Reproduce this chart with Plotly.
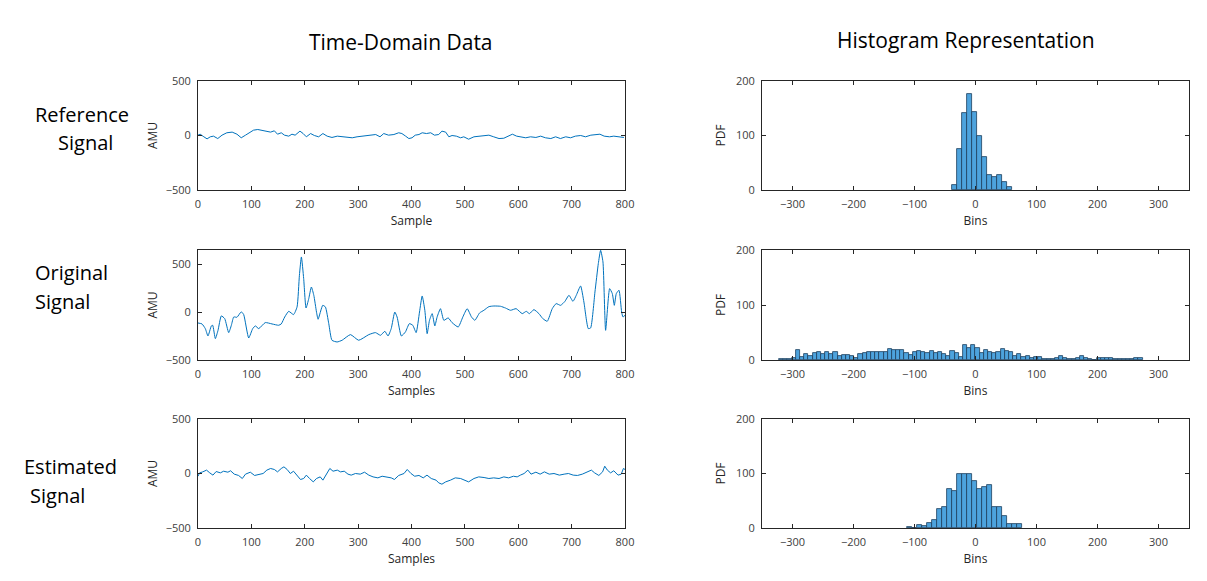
import plotly.graph_objects as go

# ---------------- data ----------------
ref_x = [0, 4, 11, 17, 23, 29, 37, 45, 54, 64, 73, 81, 89, 98, 104, 112, 120, 128, 136, 143, 149, 156, 162, 170,
         176, 182, 191, 197, 203, 211, 218, 226, 234, 242, 251, 261, 270, 279, 289, 298, 308, 317, 326, 333, 341,
         348, 357, 367, 376, 382, 389, 395, 401, 407, 414, 420, 428, 436, 443, 451, 457, 464, 470, 476, 484, 492,
         498, 507, 517, 526, 536, 545, 554, 564, 573, 582, 589, 597, 604, 614, 623, 633, 642, 651, 661, 670, 679,
         689, 698, 707, 717, 726, 736, 745, 753, 761, 771, 779, 789, 798]
ref_y = [3, 12, -12, -31, -12, -6, -28, 3, 25, 31, 12, -21, 3, 31, 49, 55, 49, 37, 31, 43, 12, 25, 3, -6,
         12, 3, 40, 18, -12, 18, 0, -12, 18, -6, -18, -6, -12, -18, -21, -12, -6, -3, 0, 9, -12,
         18, 3, 9, 25, 18, -6, -28, -21, 3, 9, 25, 18, 25, 3, 9, 40, 31, -12, 0, -6, -21,
         -12, -34, -12, -6, 0, 3, -12, -28, -25, 0, 12, -6, -12, -21, -12, -18, -6, -21, -28, -12, -28,
         -12, -21, -6, 0, -12, 3, 6, 12, -6, -12, -6, -12, -18]

orig_x = [0, 7.5, 13.7, 18.7, 25, 27.5, 32.5, 37.5, 43.7, 50, 57.5, 62.5, 67, 73, 81, 85.6, 95, 102.5, 107.5,
          113.7, 126, 138.7, 151, 156, 162.5, 170, 179, 185.6, 190, 193.7, 198, 202.4, 207.5, 212.4, 217, 222,
          225, 233.7, 238.7, 245, 251, 260.6, 270, 285.6, 301, 320, 332.4, 342, 350, 356, 362, 368.7, 373, 381,
          388.7, 396, 402.4, 408.7, 415, 420, 425, 429.3, 433.7, 438.7, 443.7, 448, 454.3, 460.6, 468.7, 476,
          487.5, 496.2, 504.3, 512.4, 518.7, 527.5, 535.6, 545, 554.3, 566.8, 576, 585.6, 596, 607.5, 615, 621,
          629.3, 638.7, 646, 654.3, 663.7, 671, 679.3, 687.5, 695, 702.5, 708.7, 716.8, 723, 731.2, 735.6,
          743.7, 750, 754.3, 758.7, 763.7, 771.2, 776.2, 780, 783.7, 788.7, 793.7, 796.2, 800]
orig_y = [-112, -122, -171, -248, -143, -136, -276, -189, -38, -66, -213, -136, -49, -52, 5, -24, -269, -171, -143,
          -171, -108, -122, -136, -122, -49, 10, -24, 56, 388, 580, 353, 45, 143, 265, 178, 3,
          -73, 73, 56, -119, -293, -311, -293, -234, -293, -234, -213, -241, -199, -248, -171, 3, -49, -248,
          -205, -119, -136, -213, 3, 171, 21, -224, -84, -14, -143, -49, 38, -84, -59, -108,
          -154, -49, 38, -49, -84, -7, 21, 59, 66, 63, 45, 21, 38, -14, 10, -14,
          28, -14, -66, -94, 38, 91, 73, 115, 178, 115, 178, 276, 108, -171, -164,
          213, 510, 650, 528, -189, 248, 196, 73, 196, 231, 3, -49, -31]

est_x = [0, 3, 9, 16, 22, 28, 34, 42, 48, 56, 61, 68, 76, 83, 89, 98, 106, 114, 122, 129, 136, 143, 149, 156,
         161, 167, 173, 179, 186, 192, 198, 203, 209, 216, 222, 229, 234, 241, 247, 253, 261, 267, 274, 281,
         287, 295, 304, 312, 320, 328, 337, 345, 354, 362, 368, 376, 386, 392, 399, 406, 414, 422, 429, 437,
         446, 451, 457, 464, 473, 482, 492, 501, 507, 517, 526, 536, 545, 554, 564, 573, 582, 591, 598, 604,
         611, 618, 624, 633, 641, 649, 658, 667, 677, 686, 694, 703, 711, 720, 729, 737, 743, 751, 758, 762,
         767, 773, 779, 787, 793, 797, 800]
est_y = [-25, 6, 15, 31, 6, -15, 18, 6, 21, 12, 25, -6, -18, -46, -6, 12, -18, -6, 0, 31, 46, 37, 15, 46,
         61, 37, 0, 21, -15, -55, -46, -15, -46, -77, -46, -31, -61, 0, 46, 21, 31, 15, 21, -6,
         -15, 0, -6, 12, -15, -31, -40, -25, -31, -40, -55, -18, 0, 37, 0, -25, -18, -40, -15, -46,
         -61, -86, -98, -77, -61, -40, -46, -67, -77, -46, -31, -37, -46, -40, -46, -31, -40, -25, -31, -15,
         0, 31, -6, 12, -6, 15, -6, 0, -15, -6, 0, -15, -18, -6, 15, 31, 6, -18, 15, 67,
         31, 6, 25, -15, -6, 46, 37]

ref_hist_start = -38.2
ref_hist_width = 8.19
ref_hist_counts = [10, 75, 141, 177, 143, 100, 60, 28, 24, 27, 15, 5]

orig_hist_start = -322.0
orig_hist_width = 6.85
orig_hist_counts = [1, 1, 2, 3, 18,
                    6, 11, 7, 12, 14, 11, 14, 11, 14, 7, 9, 9, 7,
                    4, 11, 13, 14, 14, 14, 14, 15, 20, 19, 19, 18, 13, 9, 14,
                    16, 15, 12, 16, 12, 14, 11, 7, 16, 12, 5,
                    28, 22, 28, 22,
                    12, 18, 15, 12, 15, 20, 16, 15, 8, 11, 5, 7, 4,
                    6, 6, 2, 1, 2, 3, 7, 3, 1, 1, 3, 7, 3, 1, 0, 3, 3, 3, 3, 2, 1, 1, 1, 1, 3, 3]

est_hist_start = -111.7
est_hist_width = 8.19
est_hist_counts = [2, 0, 6, 3, 10, 14, 34, 39, 71, 67, 99, 99, 99, 86, 71, 76, 78, 38, 38, 22, 8, 8, 8]

row_labels = [("Reference", "Signal"), ("Original", "Signal"), ("Estimated", "Signal")]
time_xlabels = ["Sample", "Samples", "Samples"]
col_titles = ["Time-Domain Data", "Histogram Representation"]

# ---------------- figure ----------------
# the page body has an 8px margin, so the figure is drawn 8px in from the window corner
OFF = 8
W, H = 1207 - OFF, 581 - OFF
LINE = "#0072BD"
BAR = "#4DA3DD"
AX = "#262626"
FAM = "Open Sans, Noto Sans, sans-serif"
TICKF = dict(family=FAM, size=11, color="#404040")
TITLEF = dict(family=FAM, size=12, color="#262626")

rows_px = [(81, 190), (250, 360), (419, 528)]
time_x_px = (198, 625)
hist_x_px = (762, 1189)


def px_x(p):
    return (p - OFF) / W


def px_y(p):
    return 1 - (p - OFF) / H


fig = go.Figure()


def bin_centers(start, width, n):
    return [start + width * (i + 0.5) for i in range(n)]


series = [(ref_x, ref_y, "linear"), (orig_x, orig_y, "spline"), (est_x, est_y, "linear")]
hists = [(ref_hist_start, ref_hist_width, ref_hist_counts),
         (orig_hist_start, orig_hist_width, orig_hist_counts),
         (est_hist_start, est_hist_width, est_hist_counts)]
time_yranges = [[-500, 500], [-500, 653], [-500, 500]]

layout = {}
for r in range(3):
    top, bot = rows_px[r]
    ydom = [px_y(bot), px_y(top)]
    ti = 2 * r + 1
    hi = 2 * r + 2
    sx = "" if ti == 1 else str(ti)
    hx = str(hi)

    xs, ys, shp = series[r]
    ln = dict(color=LINE, width=1, shape=shp)
    if shp == "spline":
        ln["smoothing"] = 0.5
    fig.add_trace(go.Scatter(x=xs, y=ys, mode="lines", line=ln,
                             xaxis="x" + sx, yaxis="y" + sx, showlegend=False))
    st, w, c = hists[r]
    fig.add_trace(go.Bar(x=bin_centers(st, w, len(c)), y=c, width=w,
                         marker=dict(color=BAR, line=dict(color="#1d3f5e", width=0.8)),
                         xaxis="x" + hx, yaxis="y" + hx, showlegend=False))

    common = dict(showline=True, linecolor=AX, linewidth=1, mirror="ticks", ticks="inside",
                  ticklen=4, tickcolor=AX, showgrid=False, zeroline=False, tickfont=TICKF,
                  automargin=False, ticklabelstandoff=4)

    layout["xaxis" + sx] = dict(domain=[px_x(time_x_px[0]), px_x(time_x_px[1])], range=[0, 800],
                                tickvals=[0, 100, 200, 300, 400, 500, 600, 700, 800],
                                anchor="y" + sx,
                                title=dict(text=time_xlabels[r], font=TITLEF, standoff=6), **common)
    layout["yaxis" + sx] = dict(domain=ydom, range=time_yranges[r], tickvals=[-500, 0, 500],
                                anchor="x" + sx,
                                title=dict(text="AMU", font=TITLEF, standoff=5), **common)
    layout["xaxis" + hx] = dict(domain=[px_x(hist_x_px[0]), px_x(hist_x_px[1])], range=[-350, 350],
                                tickvals=[-300, -200, -100, 0, 100, 200, 300],
                                anchor="y" + hx,
                                title=dict(text="Bins", font=TITLEF, standoff=6), **common)
    layout["yaxis" + hx] = dict(domain=ydom, range=[0, 200], tickvals=[0, 100, 200],
                                anchor="x" + hx,
                                title=dict(text="PDF", font=TITLEF, standoff=7), **common)

fig.update_layout(**layout)

annots = []
BIGF = dict(family=FAM, size=21, color="#000000")
LBLF = dict(family=FAM, size=20, color="#000000")
annots.append(dict(text=col_titles[0], x=px_x(401), y=px_y(42), xref="paper", yref="paper",
                   showarrow=False, font=BIGF, xanchor="center", yanchor="middle"))
annots.append(dict(text=col_titles[1], x=px_x(966), y=px_y(40), xref="paper", yref="paper",
                   showarrow=False, font=BIGF, xanchor="center", yanchor="middle"))
label_pos = [((33, 114), (56, 143)), ((33, 272), (33, 301)), ((22, 466), (28, 495))]
for (l1, l2), ((x1, y1), (x2, y2)) in zip(row_labels, label_pos):
    annots.append(dict(text=l1, x=px_x(x1), y=px_y(y1), xref="paper", yref="paper", showarrow=False,
                       font=LBLF, xanchor="left", yanchor="middle"))
    annots.append(dict(text=l2, x=px_x(x2), y=px_y(y2), xref="paper", yref="paper", showarrow=False,
                       font=LBLF, xanchor="left", yanchor="middle"))

fig.update_layout(width=W, height=H, margin=dict(l=0, r=0, t=0, b=0, pad=0, autoexpand=False),
                  paper_bgcolor="white", plot_bgcolor="white", annotations=annots,
                  bargap=0, showlegend=False)

fig.write_html("out.html")
